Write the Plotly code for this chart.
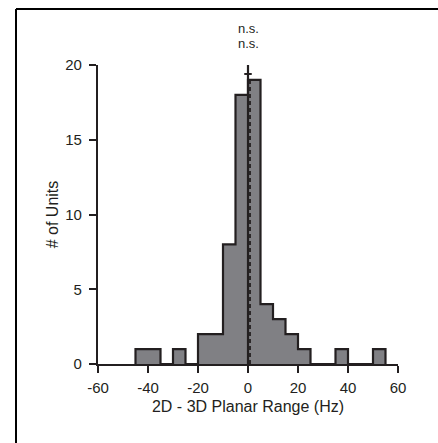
import plotly.graph_objects as go

# ---- data ----
bin_left = [-45, -40, -35, -30, -25, -20, -15, -10, -5, 0, 5, 10, 15, 20, 25, 30, 35, 40, 45, 50]
counts   = [1, 1, 0, 1, 0, 2, 2, 8, 18, 19, 4, 3, 2, 1, 0, 0, 1, 0, 0, 1]
bin_width = 5
x_ticks = [-60, -40, -20, 0, 20, 40, 60]
x_tick_text = ["-60", "-40", "-20", "0", "20", "40", "60"]
y_ticks = [0, 5, 10, 15, 20]
y_tick_text = ["0", "5", "10", "15", "20"]
zero_line_x = 0
zero_line_top = 20
cross_y = 19.4
cross_half = 1.5
dashed_x = 0.8
dashed_top = 19
sig_labels = ["n.s.", "n.s."]

W, H = 438, 443
ML, MR, MT, MB = 98, 40, 65, 79
PW, PH = W - ML - MR, H - MT - MB

EDGE = "#231f20"
FILL = "#808084"
FAM = "Liberation Sans, Arial, sans-serif"

# step outline points
sx = [bin_left[0]] + bin_left + [bin_left[-1] + bin_width]
sy = [0] + counts + [0]

fig = go.Figure()
fig.add_trace(go.Scatter(x=sx, y=sy, mode="lines", line=dict(shape="hv", color=EDGE, width=2.2),
                         fill="tozeroy", fillcolor=FILL, hoverinfo="skip"))
# dashed line
fig.add_trace(go.Scatter(x=[dashed_x, dashed_x], y=[0, dashed_top], mode="lines",
                         line=dict(color=EDGE, width=1.8, dash="4px,3px")))
# solid zero line
fig.add_trace(go.Scatter(x=[zero_line_x, zero_line_x], y=[0, zero_line_top], mode="lines",
                         line=dict(color=EDGE, width=2.2)))
# cross tick
fig.add_trace(go.Scatter(x=[zero_line_x - cross_half, zero_line_x + cross_half], y=[cross_y, cross_y],
                         mode="lines", line=dict(color=EDGE, width=2)))

font = dict(family=FAM, size=15, color="#231f20")

fig.update_layout(
    width=W, height=H, margin=dict(l=ML, r=MR, t=MT, b=MB),
    paper_bgcolor="white", plot_bgcolor="white", showlegend=False, font=font,
    xaxis=dict(range=[-60, 60], tickvals=x_ticks, ticktext=x_tick_text, ticks="outside", ticklen=7,
               tickwidth=2, tickcolor=EDGE, showline=True, linecolor=EDGE, linewidth=2.2,
               showgrid=False, zeroline=False, tickfont=dict(family=FAM, size=15), ticklabelstandoff=2,
               title=dict(text="2D - 3D Planar Range (Hz)", font=dict(family=FAM, size=16), standoff=6)),
    yaxis=dict(range=[0, 20], tickvals=y_ticks, ticktext=y_tick_text, ticks="outside", ticklen=7,
               tickwidth=2, tickcolor=EDGE, showline=True, linecolor=EDGE, linewidth=2.2,
               showgrid=False, zeroline=False, tickfont=dict(family=FAM, size=15), ticklabelstandoff=4,
               title=dict(text="# of Units", font=dict(family=FAM, size=16), standoff=3)),
)

# n.s. labels
for i, t in enumerate(sig_labels):
    fig.add_annotation(x=zero_line_x, y=1, xref="x", yref="paper", yanchor="middle",
                       yshift=21.5 + (1 - i) * 15, text=t, showarrow=False,
                       font=dict(family=FAM, size=13), borderpad=0)

# panel border (top and left)
def px_to_paper_x(px):
    return (px - ML) / PW

def px_to_paper_y(py):
    return (H - MB - py) / PH

fig.add_shape(type="line", xref="paper", yref="paper",
              x0=px_to_paper_x(16), x1=px_to_paper_x(440), y0=px_to_paper_y(9), y1=px_to_paper_y(9),
              line=dict(color="black", width=2))
fig.add_shape(type="line", xref="paper", yref="paper",
              x0=px_to_paper_x(16), x1=px_to_paper_x(16), y0=px_to_paper_y(9), y1=px_to_paper_y(445),
              line=dict(color="black", width=2))

fig.write_html("out.html")
